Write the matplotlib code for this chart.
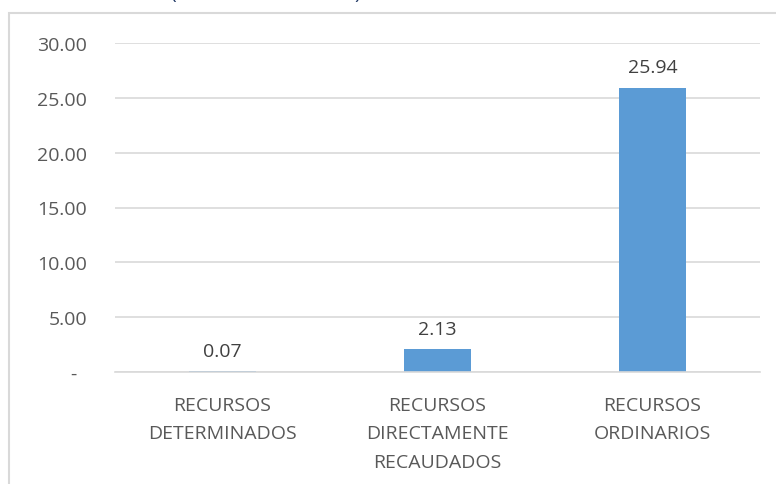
import matplotlib.pyplot as plt
from matplotlib.patches import Rectangle

categorias = ["RECURSOS\nDETERMINADOS", "RECURSOS\nDIRECTAMENTE\nRECAUDADOS", "RECURSOS\nORDINARIOS"]
valores = [0.07, 2.13, 25.94]
etiquetas = ["0.07", "2.13", "25.94"]
yticks = [0, 5, 10, 15, 20, 25, 30]
ytick_labels = ["-  ", "5.00", "10.00", "15.00", "20.00", "25.00", "30.00"]

plt.rcParams['font.family'] = ['Open Sans', 'DejaVu Sans']

fig = plt.figure(figsize=(7.76, 4.85), dpi=100)
W, H = 776, 485

# marco del grafico (recortado)
fig.patches.append(Rectangle((9 / W, -0.1), 1.2, 1 - 14 / H + 0.1, transform=fig.transFigure,
                             fill=False, edgecolor="#d9d9d9", linewidth=1.5))

# restos del titulo cortado arriba
fig.text(170 / W, 1 + 1 / H, "(", color="#1f3864", fontsize=14, va="baseline", ha="left")
fig.text(354 / W, 1 + 1 / H, ")", color="#1f3864", fontsize=14, va="baseline", ha="left")

ax = fig.add_axes([115 / W, 1 - 373 / H, (760 - 115) / W, (373 - 44) / H])
x = range(len(categorias))
bars = ax.bar(x, valores, width=0.31, color="#5b9bd5")

for xi, v, lab in zip(x, valores, etiquetas):
    ax.annotate(lab, (xi, v), xytext=(0, 8), textcoords="offset points",
                ha="center", va="bottom", fontsize=14, color="#404040")

ax.set_ylim(0, 30)
ax.set_xlim(-0.5, 2.5)
ax.set_yticks(yticks)
ax.set_yticklabels(ytick_labels)
ax.set_xticks(list(x))
ax.set_xticklabels(categorias, linespacing=1.75)
ax.tick_params(axis="y", length=0, pad=20, labelsize=14, labelcolor="#595959")
ax.tick_params(axis="x", length=0, pad=17, labelsize=14, labelcolor="#595959")

ax.grid(axis="y", color="#d9d9d9", linewidth=1.2)
ax.set_axisbelow(True)
for s in ["top", "right", "left"]:
    ax.spines[s].set_visible(False)
ax.spines["bottom"].set_color("#d9d9d9")
ax.spines["bottom"].set_linewidth(1.2)

fig.savefig("out.png", dpi=100)
